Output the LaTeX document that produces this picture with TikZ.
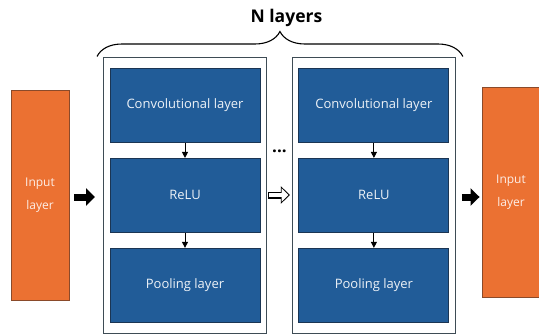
\documentclass[tikz,border=0pt]{standalone}
\usepackage{fontspec}
\setmainfont{Open Sans}
\usepackage{xcolor}
\usepackage{tikz}
\usetikzlibrary{arrows.meta,positioning,fit,calc,decorations.pathreplacing}
\definecolor{layerblue}{HTML}{215C98}
\definecolor{layeredge}{HTML}{1B3553}
\definecolor{ioorange}{HTML}{EB7132}
\definecolor{ioedge}{HTML}{8A4A2A}
\definecolor{frameline}{HTML}{3E4C55}

\begin{document}
\begin{tikzpicture}[x=1pt, y=1pt, node distance=15pt,
    every node/.style={font=\fontsize{12}{23}\selectfont, align=center},
    layerbox/.style={draw=layeredge, line width=0.9pt, fill=layerblue, text=white!92!layerblue, font=\fontsize{13}{16}\selectfont, minimum width=150pt, minimum height=74pt},
    iobox/.style={draw=ioedge, line width=0.9pt, fill=ioorange, text=white!88!ioorange, minimum width=58pt, minimum height=210pt},
    stackframe/.style={draw=frameline, line width=1.1pt, inner xsep=6pt, inner ysep=11pt},
    smallarrow/.style={-{Triangle[length=6pt, width=6pt]}, line width=1pt},
    bigarrow/.style={-{Triangle[length=9pt, width=17pt]}, line width=7pt}]
    \useasboundingbox (0,0) rectangle (539,333);

    % input and output columns
    \node[iobox] (input) at (40,137.5) {Input\\layer};
    \node[iobox] (output) at (511,140.5) {Input\\layer};

    % first stack
    \node[layerbox] (conv1) at (185,227.5) {Convolutional layer};
    \node[layerbox, below=of conv1] (relu1) {ReLU};
    \node[layerbox, below=of relu1] (pool1) {Pooling layer};

    % second stack
    \node[layerbox, right=38pt of conv1] (conv2) {Convolutional layer};
    \node[layerbox, below=of conv2] (relu2) {ReLU};
    \node[layerbox, below=of relu2] (pool2) {Pooling layer};

    \node[stackframe, fit=(conv1)(pool1)] (frame1) {};
    \node[stackframe, fit=(conv2)(pool2)] (frame2) {};

    \draw[smallarrow] (conv1) -- (relu1);
    \draw[smallarrow] (relu1) -- (pool1);
    \draw[smallarrow] (conv2) -- (relu2);
    \draw[smallarrow] (relu2) -- (pool2);

    % block arrows between the parts
    \draw[bigarrow, shorten <=5pt, shorten >=8pt] (input.east |- 0,136) -- (frame1.west |- 0,136);
    \draw[bigarrow, shorten <=6pt, shorten >=2pt] (frame2.east |- 0,136) -- (output.west |- 0,136);
    \draw[bigarrow, shorten <=1pt, shorten >=2pt] (frame1.east |- 0,138) -- (frame2.west |- 0,138);
    \draw[-{Triangle[length=6.6pt, width=13pt]}, line width=4.8pt, white, shorten <=2.1pt, shorten >=3.6pt] (frame1.east |- 0,138) -- (frame2.west |- 0,138);

    \node[font=\fontsize{17}{20}\selectfont\bfseries] (dots) at ($(conv1.south east)!0.5!(conv2.south west)$) [yshift=-8pt] {...};

    % brace over both stacks
    \draw[decorate, decoration={brace, amplitude=25pt}, line width=1.1pt] ([xshift=-6pt]frame1.north west) -- ([xshift=7pt]frame2.north east);
    \node[font=\fontsize{17.5}{20}\selectfont\bfseries] (title) at ($(frame1.north west)!0.5!(frame2.north east)$) [xshift=7pt, yshift=39pt] {N layers};
\end{tikzpicture}
\end{document}
